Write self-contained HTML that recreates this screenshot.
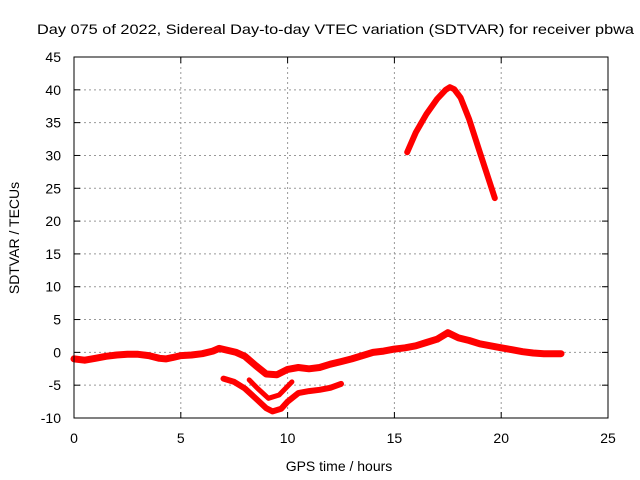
<!DOCTYPE html>
<html><head><meta charset="utf-8"><style>
body{margin:0;background:#fff}
svg{display:block;font-family:"Liberation Sans",sans-serif}
</style></head><body>
<svg id="chart" width="640" height="480">
<text x="37" y="34" font-size="14" textLength="597" lengthAdjust="spacingAndGlyphs">Day 075 of 2022, Sidereal Day-to-day VTEC variation (SDTVAR) for receiver pbwa</text>
<text x="339" y="471" font-size="14" text-anchor="middle">GPS time / hours</text>
<text transform="translate(19,238) rotate(-90)" font-size="14" text-anchor="middle">SDTVAR / TECUs</text>
<g id="grid"></g><g id="series"></g><g id="axes"></g>
</svg>
<script>
const xTicks=[0,5,10,15,20,25];
const yTicks=[-10,-5,0,5,10,15,20,25,30,35,40,45];
const mainX=[0,0.5,1,1.5,2,2.5,3,3.5,4,4.3,4.6,5,5.5,6,6.5,6.8,7.2,7.6,8,8.5,9,9.5,10,10.5,11,11.5,12,12.5,13,13.5,14,14.5,15,15.5,16,16.5,17,17.5,18,18.5,19,19.5,20,20.5,21,21.5,22,22.8];
const mainY=[-1,-1.2,-0.9,-0.6,-0.4,-0.3,-0.3,-0.5,-0.9,-1,-0.8,-0.5,-0.4,-0.2,0.2,0.6,0.3,0,-0.6,-2,-3.3,-3.4,-2.6,-2.3,-2.5,-2.3,-1.8,-1.4,-1,-0.5,0,0.2,0.5,0.7,1,1.5,2,3,2.2,1.8,1.3,1,0.7,0.4,0.1,-0.1,-0.2,-0.2];
const midX=[8.2,8.6,9.1,9.6,10.2];
const midY=[-4.2,-5.5,-7,-6.5,-4.5];
const lowX=[7,7.5,8,8.5,9,9.3,9.7,10,10.5,11,11.5,12,12.5];
const lowY=[-4,-4.5,-5.5,-7,-8.5,-9,-8.6,-7.5,-6.2,-5.9,-5.7,-5.4,-4.8];
const upX=[15.6,16,16.5,17,17.4,17.6,17.8,18.1,18.5,19,19.4,19.7];
const upY=[30.5,33.5,36.3,38.6,40,40.4,40.1,38.8,35.5,30.5,26.5,23.5];
const X0=74,X1=608,Y0=418,Y1=57;
const sx=v=>X0+(v-0)/(25-0)*(X1-X0);
const sy=v=>Y0-(v+10)/(55)*(Y0-Y1);
const NS="http://www.w3.org/2000/svg";
const grid=document.getElementById('grid'),axes=document.getElementById('axes'),ser=document.getElementById('series');
function mk(tag,at,p){const e=document.createElementNS(NS,tag);for(const k in at)e.setAttribute(k,at[k]);p.appendChild(e);return e;}
xTicks.forEach(t=>{
 if(t>0&&t<25){const g=mk('line',{x1:sx(t),x2:sx(t),y1:Y1,y2:Y0,stroke:'#999','stroke-dasharray':'2,3'},grid);
 
 }
 mk('line',{x1:sx(t),x2:sx(t),y1:Y0,y2:Y0-6,stroke:'#000'},axes);
 mk('line',{x1:sx(t),x2:sx(t),y1:Y1,y2:Y1+6,stroke:'#000'},axes);
 const l=mk('text',{x:sx(t),y:Y0+25,'font-size':14,'text-anchor':'middle'},axes);l.textContent=t;
 
 
});
yTicks.forEach(t=>{
 if(t>-10&&t<45){const g=mk('line',{x1:X0,x2:X1,y1:sy(t),y2:sy(t),stroke:'#999','stroke-dasharray':'2,3'},grid);
 
 }
 mk('line',{x1:X0,x2:X0+6,y1:sy(t),y2:sy(t),stroke:'#000'},axes);
 mk('line',{x1:X1,x2:X1-6,y1:sy(t),y2:sy(t),stroke:'#000'},axes);
 const l=mk('text',{x:X0-13,y:sy(t)+5,'font-size':14,'text-anchor':'end'},axes);l.textContent=t;
 
 
});
const frame=mk('rect',{x:X0,y:Y1,width:X1-X0,height:Y0-Y1,fill:'none',stroke:'#000'},axes);


function line(xs,ys,w,name){
 const d=xs.map((x,i)=>(i?'L':'M')+sx(x).toFixed(1)+','+sy(ys[i]).toFixed(1)).join('');
 const p=mk('path',{d:d,fill:'none',stroke:'#f00','stroke-width':w,'stroke-linejoin':'round','stroke-linecap':'round'},ser);
 
 
}
line(mainX,mainY,7,'series-main');
line(midX,midY,5,'series-middle-arc');
line(lowX,lowY,6,'series-lower-arc');
line(upX,upY,6,'series-upper-arc');
</script>
</body></html>
